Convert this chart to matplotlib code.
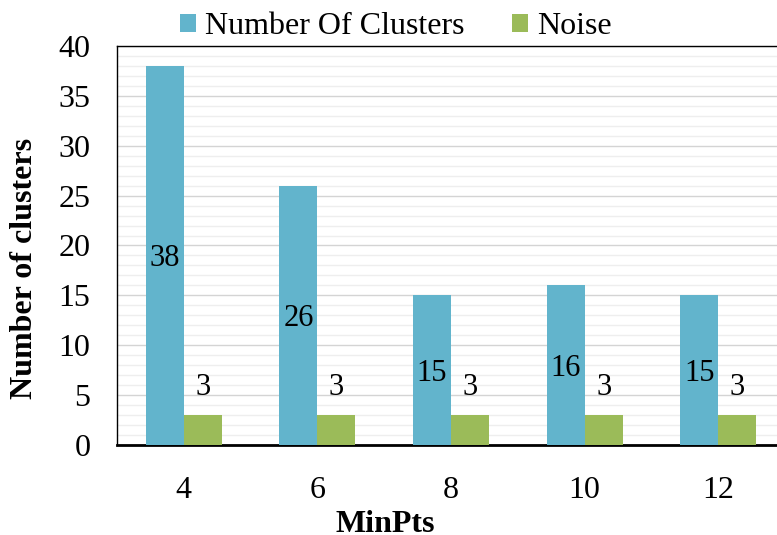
import matplotlib.pyplot as plt
import numpy as np
from matplotlib.ticker import MultipleLocator

plt.rcParams['font.family'] = ['Liberation Serif', 'DejaVu Serif']

minpts = ['4', '6', '8', '10', '12']
clusters = [38, 26, 15, 16, 15]
noise = [3, 3, 3, 3, 3]

blue = '#62B4CC'
green = '#9BBB59'

fig = plt.figure(figsize=(7.77, 5.35), dpi=100)
ax = fig.add_axes([117 / 777, 1 - 445 / 535, (785 - 117) / 777, (445 - 46) / 535])

x = np.arange(len(minpts))
w = 0.285
b1 = ax.bar(x - w / 2, clusters, w, color=blue, label='Number Of Clusters', zorder=3)
b2 = ax.bar(x + w / 2, noise, w, color=green, label='Noise', zorder=3)

for rect, v in zip(b1, clusters):
    ax.text(rect.get_x() + rect.get_width() / 2, v / 2 - 0.3, str(v),
            ha='center', va='center', fontsize=22, zorder=4)
for rect, v in zip(b2, noise):
    ax.text(rect.get_x() + rect.get_width() / 2, v + 2.8, str(v),
            ha='center', va='center', fontsize=22, zorder=4)

ax.set_xlim(-0.5, len(minpts) - 0.5)
ax.set_ylim(0, 40)
ax.set_xticks(x)
ax.set_xticklabels(minpts)
ax.yaxis.set_major_locator(MultipleLocator(5))
ax.yaxis.set_minor_locator(MultipleLocator(1))
ax.grid(which='major', axis='y', color='#d4d4d4', linewidth=1.0, zorder=0)
ax.grid(which='minor', axis='y', color='#eeeeee', linewidth=1.0, zorder=0)
ax.tick_params(axis='both', which='both', length=0, labelsize=23)
ax.tick_params(axis='x', pad=22)
ax.tick_params(axis='y', pad=19)

for s in ['top', 'left', 'right']:
    ax.spines[s].set_linewidth(1.0)
    ax.spines[s].set_color('black')
ax.spines['bottom'].set_linewidth(2.0)

fig.text(25 / 777, 1 - 268 / 535, 'Number of clusters', ha='center', va='center',
         rotation=90, fontsize=23, fontweight='bold')
fig.text(385 / 777, 1 - 524 / 535, 'MinPts', ha='center', va='center',
         fontsize=23, fontweight='bold')

fig.legend(loc='center', bbox_to_anchor=(396 / 777, 1 - 27 / 535), ncol=2,
           frameon=False, fontsize=23, handlelength=0.5, handleheight=0.5,
           handletextpad=0.28, columnspacing=1.5, borderpad=0, borderaxespad=0)

fig.savefig('out.png', dpi=100)
